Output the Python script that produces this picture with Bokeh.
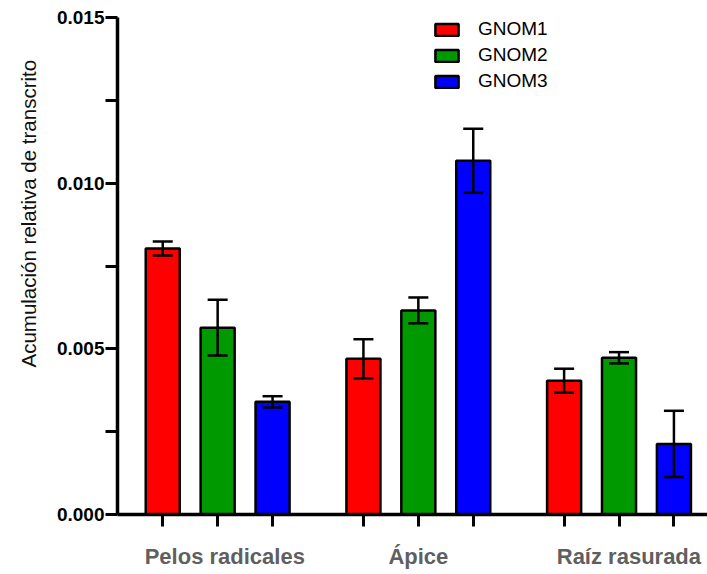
from bokeh.plotting import figure
from bokeh.models import (ColumnDataSource, Range1d, FixedTicker, Whisker, TeeHead,
                          Legend, LegendItem, LinearAxis, Title, CustomJSTickFormatter)
from bokeh.embed import file_html
from bokeh.resources import INLINE

# ---- data ----
categories = ["Pelos radicales", "Ápice", "Raíz rasurada"]
series = ["GNOM1", "GNOM2", "GNOM3"]
gnom1 = [0.00803, 0.00470, 0.00404]
gnom1_err = [0.00021, 0.00059, 0.00036]
gnom2 = [0.00564, 0.00616, 0.00473]
gnom2_err = [0.00084, 0.00039, 0.00017]
gnom3 = [0.00340, 0.01068, 0.00213]
gnom3_err = [0.00017, 0.00096, 0.00100]
y_ticks = [0.0, 0.005, 0.010, 0.015]
y_tick_labels = ["0.000", "0.005", "0.010", "0.015"]
y_minor_ticks = [0.0025, 0.0075, 0.0125]
y_label = "Acumulación relativa de transcrito"

colors = ["#FF0000", "#009900", "#0000FF"]
values = [gnom1, gnom2, gnom3]
errors = [gnom1_err, gnom2_err, gnom3_err]

# ---- layout ----
group_step = 3.655
bar_step = 1.0
bar_width = 0.62
label_shift = [0.13, 0.0, 0.18]
FONT = "Liberation Sans"

p = figure(width=707, height=574, output_backend="svg", toolbar_location=None,
           x_range=Range1d(-1.824, -1.824 + 591 / 55.0), y_range=Range1d(0, 0.015),
           min_border_left=116, min_border_right=0, min_border_top=17, min_border_bottom=60)
p.outline_line_color = None
p.xgrid.visible = False
p.ygrid.visible = False
p.background_fill_color = "white"
p.border_fill_color = "white"

renderers = []
bar_positions = []
for s, (name, vals, errs, col) in enumerate(zip(series, values, errors, colors)):
    xs = [g * group_step + (s - 1) * bar_step for g in range(len(categories))]
    bar_positions += xs
    src = ColumnDataSource(dict(x=xs, top=vals,
                                upper=[v + e for v, e in zip(vals, errs)],
                                lower=[v - e for v, e in zip(vals, errs)]))
    r = p.vbar(x="x", top="top", width=bar_width, bottom=0, source=src,
               fill_color=col, line_color="black", line_width=2.5)
    renderers.append(r)
    w = Whisker(base="x", upper="upper", lower="lower", source=src,
                line_color="black", line_width=2.5, level="annotation",
                upper_head=TeeHead(size=20, line_width=2.5, line_color="black"),
                lower_head=TeeHead(size=20, line_width=2.5, line_color="black"))
    p.add_layout(w)

# y axis
yax = p.yaxis[0]
yax.ticker = FixedTicker(ticks=y_ticks, minor_ticks=y_minor_ticks)
yax.major_label_overrides = {t: l for t, l in zip(y_ticks, y_tick_labels)}
yax.axis_line_width = 3.5
yax.major_tick_line_width = 3
yax.minor_tick_line_width = 3
yax.major_tick_in = 0
yax.major_tick_out = 12
yax.minor_tick_in = 0
yax.minor_tick_out = 12
yax.major_label_standoff = 1
yax.major_label_text_font = FONT
yax.major_label_text_font_style = "bold"
yax.major_label_text_font_size = "19px"
yax.major_label_text_color = "black"

# y axis title as a left-side title
ytitle = Title(text=y_label, align="left", offset=147, standoff=28,
               text_font=FONT, text_font_size="20.5px", text_font_style="normal",
               text_color="#111111")
p.add_layout(ytitle, "left")

# x axis (tick marks only)
xax = p.xaxis[0]
xax.ticker = FixedTicker(ticks=sorted(bar_positions), minor_ticks=[])
xax.formatter = CustomJSTickFormatter(code="return ''")
xax.axis_line_width = 3.5
xax.major_tick_line_width = 3
xax.major_tick_in = 0
xax.major_tick_out = 12
xax.minor_tick_out = 0
xax.minor_tick_in = 0
xax.major_label_standoff = 0
xax.major_label_text_font_size = "1px"

# category axis
label_pos = [g * group_step + sh for g, sh in enumerate(label_shift)]
cax = LinearAxis(ticker=FixedTicker(ticks=label_pos, minor_ticks=[]),
                 major_label_overrides={x: c for x, c in zip(label_pos, categories)},
                 axis_line_alpha=0, major_tick_line_alpha=0, minor_tick_line_alpha=0,
                 major_tick_in=0, major_tick_out=0, minor_tick_in=0, minor_tick_out=0,
                 major_label_standoff=17,
                 major_label_text_font=FONT, major_label_text_font_style="bold",
                 major_label_text_font_size="22px", major_label_text_color="#5f5f5f")
p.add_layout(cax, "below")

legend = Legend(items=[LegendItem(label=n, renderers=[r]) for n, r in zip(series, renderers)],
                location=(315, 422), orientation="vertical",
                glyph_width=29, glyph_height=15, label_standoff=17, label_width=90,
                label_text_font=FONT, label_text_font_size="19px",
                label_text_color="black", label_text_baseline="middle",
                spacing=4, padding=0, margin=0,
                border_line_alpha=0, background_fill_alpha=0)
p.add_layout(legend)

open("out.html", "w").write(file_html(p, INLINE))
